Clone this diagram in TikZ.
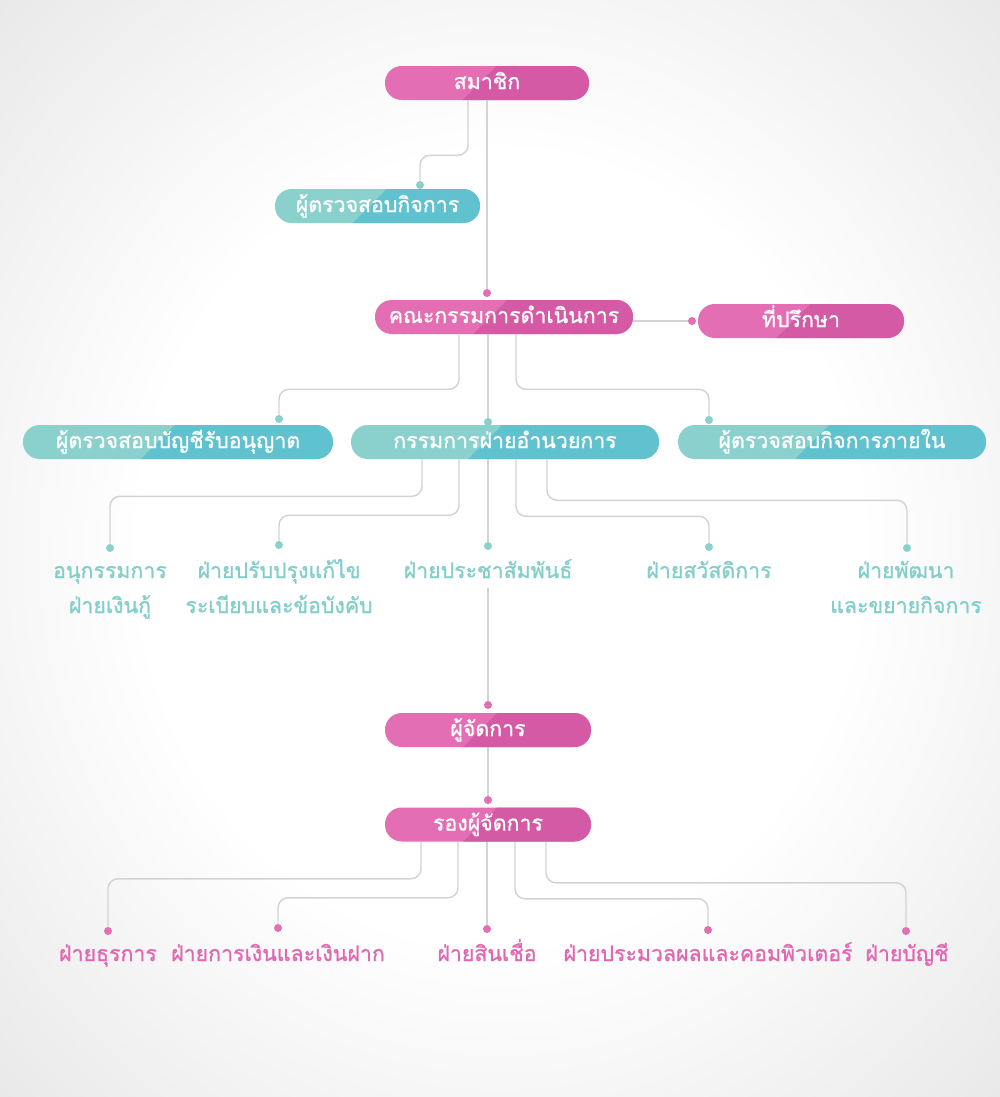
\documentclass[tikz,border=0pt]{standalone}
\usepackage{fontspec}
\newfontfamily\thaifont[Script=Thai, FakeBold=1]{Loma}
\usetikzlibrary{calc}
\definecolor{pinkA}{HTML}{E36EB4}
\definecolor{pinkB}{HTML}{D55AA6}
\definecolor{tealA}{HTML}{8AD1CD}
\definecolor{tealB}{HTML}{60C1CF}
\definecolor{tealtext}{HTML}{82CECA}
\definecolor{pinktext}{HTML}{E068B3}
\definecolor{linkgrey}{HTML}{D3D3D3}
\pgfdeclareradialshading{paper}{\pgfpoint{0bp}{0bp}}{color(0bp)=(white); color(18bp)=(white); color(36bp)=(black!9); color(50bp)=(black!9)}
\newcommand{\twolines}[2]{\begin{tabular}[t]{@{}c@{}}#1\\#2\end{tabular}}

\begin{document}
\begin{tikzpicture}[x=0.75pt, y=-0.75pt,
  every node/.style={font=\thaifont\fontsize{16}{26.25}\selectfont},
  split/.style={path picture={\fill[#1, sharp corners]
    ($(path picture bounding box.south west)!0.38!(path picture bounding box.south east)$)
    -- ++(30pt,30pt) -- ++(300pt,0pt) -- ++(0pt,-60pt) -- ++(-360pt,0pt) -- cycle;}},
  box/.style={rectangle, rounded corners=12.5pt, minimum height=25.5pt, inner sep=0pt,
    text=white, text height=9pt, text depth=0pt},
  pinkbox/.style={box, fill=pinkA, split=pinkB, minimum width=#1},
  tealbox/.style={box, fill=tealA, split=tealB, minimum width=#1},
  link/.style={draw=linkgrey, line width=1.1pt, rounded corners=7.5pt},
  tdot/.style={circle, fill=tealA, minimum size=6pt, inner sep=0pt},
  pdot/.style={circle, fill=pinkA, minimum size=6pt, inner sep=0pt},
  tlabel/.style={text=tealtext, anchor=base, inner sep=0pt},
  plabel/.style={tlabel, text=pinktext}]
  \shade[shading=paper] (0,0) rectangle (1000,1097);
  % boxes
  \node[pinkbox=153pt] (mem) at (487,83) {สมาชิก};
  \node[tealbox=153.75pt] (audit) at (377.5,206) {ผู้ตรวจสอบกิจการ};
  \node[pinkbox=193.5pt] (board) at (504,317) {คณะกรรมการดำเนินการ};
  \node[pinkbox=154.5pt] (advisor) at (801,321) {ที่ปรึกษา};
  \node[tealbox=232.5pt] (cpa) at (178,442) {ผู้ตรวจสอบบัญชีรับอนุญาต};
  \node[tealbox=231pt] (admin) at (505,442) {กรรมการฝ่ายอำนวยการ};
  \node[tealbox=231pt] (inaudit) at (832,442) {ผู้ตรวจสอบกิจการภายใน};
  \node[pinkbox=154.5pt] (mgr) at (488,730) {ผู้จัดการ};
  \node[pinkbox=154.5pt] (dmgr) at (488,824.5) {รองผู้จัดการ};
  % labels under the admin board
  \node[tlabel] (loan) at (110,578) {\twolines{อนุกรรมการ}{ฝ่ายเงินกู้}};
  \node[tlabel] (rules) at (279,578) {\twolines{ฝ่ายปรับปรุงแก้ไข}{ระเบียบและข้อบังคับ}};
  \node[tlabel, text depth=7.5pt] (pr) at (488,578) {ฝ่ายประชาสัมพันธ์};
  \node[tlabel] (welfare) at (709,578) {ฝ่ายสวัสดิการ};
  \node[tlabel] (devel) at (906,578) {\twolines{ฝ่ายพัฒนา}{และขยายกิจการ}};
  % labels under the deputy manager
  \node[plabel] (general) at (108,961) {ฝ่ายธุรการ};
  \node[plabel] (finance) at (278,961) {ฝ่ายการเงินและเงินฝาก};
  \node[plabel] (credit) at (487,961) {ฝ่ายสินเชื่อ};
  \node[plabel] (comp) at (708,961) {ฝ่ายประมวลผลและคอมพิวเตอร์};
  \node[plabel] (acct) at (907,961) {ฝ่ายบัญชี};
  % dots
  \foreach \name/\x/\y in {dAudit/420/185, dCpa/279/419, dAdmin/488/422, dIn/709/420,
      dLoan/110/548, dRules/279/545, dPr/488/546, dWelf/709/547, dDev/907/548}
    \node[tdot] (\name) at (\x,\y) {};
  \foreach \name/\x/\y in {dBoard/487/293, dAdvisor/692/321, dMgr/488/705, dDmgr/488/800,
      dGen/108/931, dFin/278/928, dCred/487/929, dComp/708/930, dAcct/906/931}
    \node[pdot] (\name) at (\x,\y) {};
  % connectors
  \draw[link] ($(mem.south)+(-19,0)$) -- ++(0,55) -| (dAudit.north);
  \draw[link] (mem.south -| dBoard) -- (dBoard.north);
  \draw[link] (board.east |- dAdvisor) -- (dAdvisor.west);
  \foreach \dx/\target in {-45/dCpa, 12/dIn}
    \draw[link] ($(board.south)+(\dx,0)$) -- ++(0,55) -| (\target.north);
  \draw[link] (board.south -| dAdmin) -- (dAdmin.north);
  \foreach \dx/\bend/\target in {-83/37/dLoan, -46/56/dRules, 11/57/dWelf, 42/41/dDev}
    \draw[link] ($(admin.south)+(\dx,0)$) -- ++(0,\bend) -| (\target.north);
  \draw[link] (admin.south -| dPr) -- (dPr.north);
  \draw[link] (pr.south) -- (dMgr.north);
  \draw[link] (mgr.south) -- (dDmgr.north);
  \foreach \dx/\bend/\target in {-67/37/dGen, -30/56/dFin, 27/57/dComp, 58/41/dAcct}
    \draw[link] ($(dmgr.south)+(\dx,0)$) -- ++(0,\bend) -| (\target.north);
  \draw[link] (dmgr.south -| dCred) -- (dCred.north);
\end{tikzpicture}
\end{document}
